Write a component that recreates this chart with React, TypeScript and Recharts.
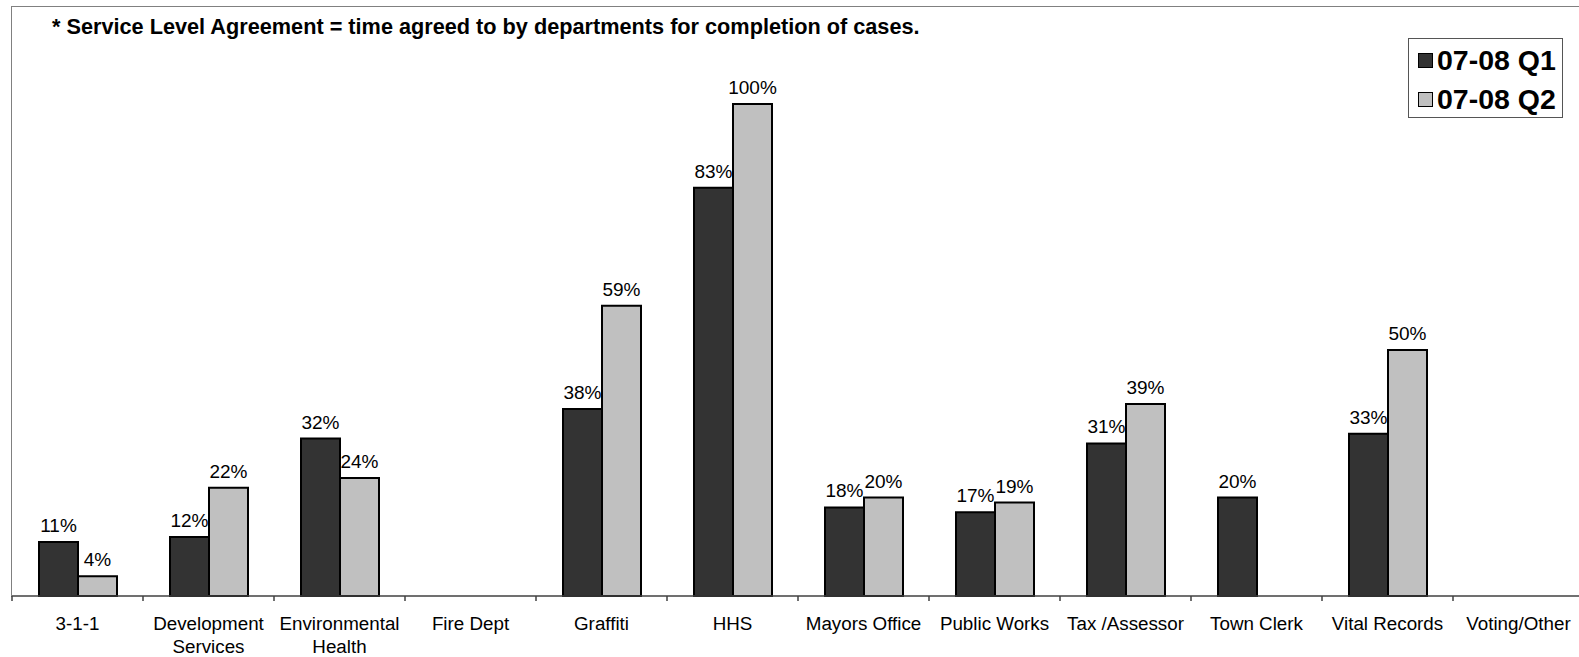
import React from "react";
import { Bar, BarChart, Customized, LabelList, Text, XAxis, YAxis } from "recharts";

const categories = [
  "3-1-1",
  "Development Services",
  "Environmental Health",
  "Fire Dept",
  "Graffiti",
  "HHS",
  "Mayors Office",
  "Public Works",
  "Tax /Assessor",
  "Town Clerk",
  "Vital Records",
  "Voting/Other",
];
const q1Values = [11, 12, 32, null, 38, 83, 18, 17, 31, 20, 33, null];
const q2Values = [4, 22, 24, null, 59, 100, 20, 19, 39, null, 50, null];
const seriesNames = ["07-08 Q1", "07-08 Q2"];
const seriesColors = ["#333333", "#C0C0C0"];
const title = "* Service Level Agreement = time agreed to by departments for completion of cases.";

const data = categories.map((name, i) => ({ name, q1: q1Values[i], q2: q2Values[i] }));

const FONT = "'Liberation Sans', Arial, Helvetica, sans-serif";
const CHART_W = 1600;
const CHART_H = 657;
const M_LEFT = 12;
const M_RIGHT = 16;
const BAND = (CHART_W - M_LEFT - M_RIGHT) / categories.length;

const pct = (v: any) => (v === null || v === undefined ? "" : `${v}%`);

function CategoryTick(props: any) {
  const { x, y, payload, index } = props;
  const axisY = y - 8;
  const left = x - BAND / 2;
  return (
    <g>
      <line x1={left} x2={left} y1={axisY} y2={axisY + 5} stroke="#404040" strokeWidth={1.5} />
      {index === categories.length - 1 && (
        <line x1={left + BAND} x2={left + BAND} y1={axisY} y2={axisY + 5} stroke="#404040" strokeWidth={1.5} />
      )}
      <Text
        x={x}
        y={y + 13}
        width={128}
        textAnchor="middle"
        verticalAnchor="start"
        lineHeight="1.2em"
        fontSize={18.8}
        fontFamily={FONT}
        fill="#000"
      >
        {payload.value}
      </Text>
    </g>
  );
}

function LegendBox() {
  return (
    <div
      style={{
        position: "absolute",
        left: 1408,
        top: 38,
        width: 155,
        height: 80,
        border: "1.5px solid #555",
        background: "#fff",
        fontFamily: FONT,
        fontWeight: "bold",
        fontSize: 28.5,
        boxSizing: "border-box",
        paddingTop: 2,
      }}
    >
      {seriesNames.map((n, i) => (
        <div key={n} style={{ display: "flex", alignItems: "center", height: 39, paddingLeft: 9 }}>
          <span
            style={{
              display: "inline-block",
              width: 13,
              height: 13,
              background: seriesColors[i],
              border: "1.5px solid #000",
              marginRight: 4,
            }}
          />
          <span>{n}</span>
        </div>
      ))}
    </div>
  );
}

export default function App() {
  return (
    <div style={{ position: "absolute", left: 0, top: 0, width: 1579, height: 657, overflow: "hidden", background: "#fff" }}>
      <div
        style={{
          position: "absolute",
          left: 11,
          top: 6,
          width: 1700,
          height: 590,
          borderLeft: "1.5px solid #808080",
          borderTop: "1.5px solid #808080",
          pointerEvents: "none",
        }}
      />
      <BarChart
        width={CHART_W}
        height={CHART_H}
        data={data}
        margin={{ top: 5.6, right: M_RIGHT, left: M_LEFT, bottom: 31 }}
        barGap={0}
        barCategoryGap={27}
      >
        <XAxis
          dataKey="name"
          height={30}
          axisLine={{ stroke: "#404040", strokeWidth: 1.5 }}
          tickLine={false}
          tickSize={6}
          tickMargin={2}
          interval={0}
          tick={<CategoryTick />}
        />
        <YAxis hide domain={[0, 120]} />
        <Bar dataKey="q1" name={seriesNames[0]} fill={seriesColors[0]} stroke="#000" strokeWidth={2} isAnimationActive={false}>
          <LabelList dataKey="q1" position="top" offset={10} formatter={pct} fontSize={19} fontFamily={FONT} fill="#000" />
        </Bar>
        <Bar dataKey="q2" name={seriesNames[1]} fill={seriesColors[1]} stroke="#000" strokeWidth={2} isAnimationActive={false}>
          <LabelList dataKey="q2" position="top" offset={10} formatter={pct} fontSize={19} fontFamily={FONT} fill="#000" />
        </Bar>
        <Customized
          component={() => (
            <text x={52} y={34} fontSize={21.7} fontWeight="bold" fontFamily={FONT} fill="#000">
              {title}
            </text>
          )}
        />
      </BarChart>
      <LegendBox />
    </div>
  );
}
